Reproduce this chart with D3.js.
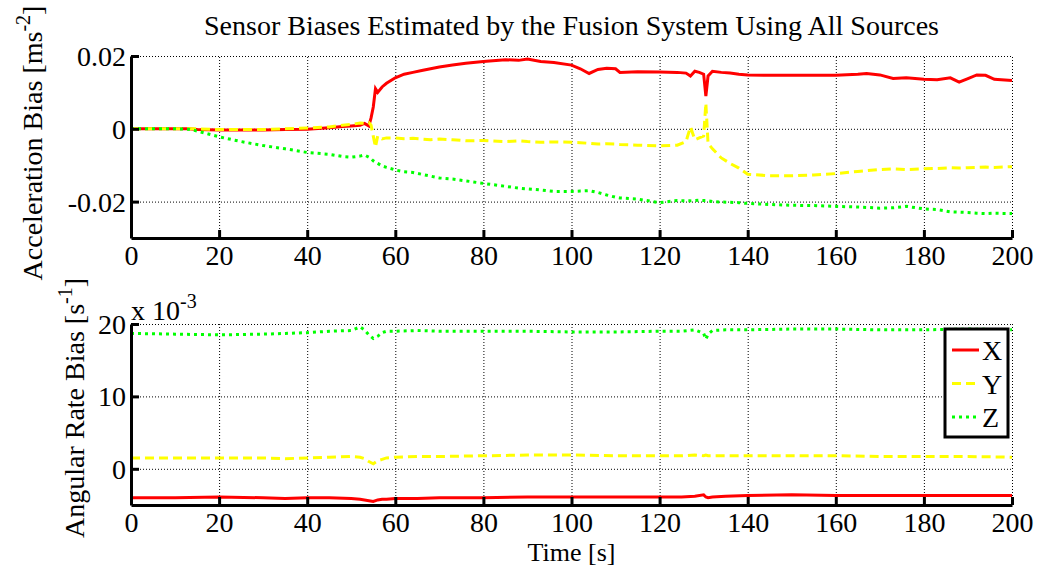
<!DOCTYPE html>
<html>
<head>
<meta charset="utf-8">
<script src="https://cdn.jsdelivr.net/npm/d3@7"></script>
<style>
  body { margin: 0; background: #fff; }
  svg text { font-family: "Times New Roman", "Liberation Serif", serif; fill: #000; }
</style>
</head>
<body>
<script>
// ---- data ----
const accTime = [0, 5, 10, 13, 15, 20, 25, 30, 35, 40, 45, 48, 50, 52, 53, 54, 54.5, 55, 55.5, 56, 57, 58, 60, 62, 64, 66, 68, 70, 73, 76, 80, 85, 88, 90, 93, 96, 100, 102, 104, 106, 108, 110, 111, 115, 120, 124, 126, 127, 128, 129, 130, 130.5, 131, 132, 134, 136, 138, 140, 145, 150, 155, 160, 165, 167, 170, 173, 176, 180, 183, 186, 188, 190, 192, 194, 196, 200];

const accX = [0, 0, 0, 0, -0.0002, -0.0003, -0.0003, -0.0003, -0.0002, -0.0001, 0.0003, 0.0006, 0.0008, 0.001, 0.0015, 0.0008, 0.003, 0.006, 0.011, 0.010, 0.0115, 0.0125, 0.014, 0.015, 0.0155, 0.016, 0.0165, 0.017, 0.0175, 0.018, 0.0185, 0.019, 0.0188, 0.0192, 0.0185, 0.0182, 0.0175, 0.0165, 0.0152, 0.0163, 0.0166, 0.0165, 0.0155, 0.0157, 0.0156, 0.0155, 0.0153, 0.0145, 0.0158, 0.0155, 0.015, 0.009, 0.0145, 0.0158, 0.0155, 0.0153, 0.015, 0.0148, 0.0147, 0.0147, 0.0147, 0.0147, 0.015, 0.0152, 0.0148, 0.0138, 0.014, 0.0136, 0.0135, 0.014, 0.0128, 0.0138, 0.0148, 0.0147, 0.0136, 0.0133];

const accY = [0, 0, 0, 0, 0, -0.0002, -0.0002, -0.0002, 0, 0.0002, 0.0005, 0.001, 0.0012, 0.0016, 0.0015, 0.0017, 0.001, -0.002, -0.005, -0.002, -0.0028, -0.0025, -0.0025, -0.0027, -0.0026, -0.0028, -0.003, -0.0028, -0.003, -0.0033, -0.0032, -0.0035, -0.0033, -0.0035, -0.0037, -0.0036, -0.0037, -0.0038, -0.004, -0.0042, -0.0041, -0.0042, -0.0043, -0.0045, -0.0047, -0.0045, -0.0035, 0.0005, -0.003, -0.0025, -0.002, 0.007, -0.004, -0.0055, -0.008, -0.0095, -0.0108, -0.0125, -0.0129, -0.0129, -0.0127, -0.0123, -0.0117, -0.0115, -0.0112, -0.011, -0.0112, -0.011, -0.0109, -0.0107, -0.0108, -0.0107, -0.0106, -0.0105, -0.0106, -0.0104];

const accZ = [0, 0, 0, -0.0001, -0.0006, -0.0022, -0.0035, -0.0046, -0.0055, -0.0065, -0.007, -0.0076, -0.0078, -0.0075, -0.0072, -0.0078, -0.0082, -0.0088, -0.0092, -0.0095, -0.0102, -0.0106, -0.0113, -0.0118, -0.012, -0.0125, -0.013, -0.0135, -0.0138, -0.0143, -0.015, -0.0158, -0.0163, -0.0165, -0.0168, -0.0172, -0.0172, -0.0171, -0.017, -0.0175, -0.0182, -0.0188, -0.019, -0.0193, -0.0203, -0.0197, -0.0198, -0.0198, -0.0197, -0.0196, -0.0197, -0.0197, -0.0198, -0.02, -0.0201, -0.0202, -0.0203, -0.0205, -0.0208, -0.021, -0.0211, -0.0213, -0.0215, -0.0216, -0.0218, -0.0217, -0.0213, -0.022, -0.0222, -0.0228, -0.0229, -0.023, -0.0232, -0.0233, -0.0232, -0.0233];

// angular rate, in units of 1e-3 s^-1
const rateTime = [0, 10, 20, 30, 35, 40, 45, 50, 52, 53, 54, 55, 56, 57, 58, 60, 65, 70, 80, 90, 100, 110, 120, 125, 128, 130, 130.5, 131, 132, 135, 140, 150, 160, 170, 180, 190, 200];

const rateX = [-4.0, -4.0, -3.9, -4.0, -4.1, -4.0, -4.0, -4.1, -4.2, -4.3, -4.4, -4.5, -4.3, -4.2, -4.2, -4.1, -4.1, -4.0, -4.0, -3.9, -3.9, -3.9, -3.9, -3.9, -3.8, -3.6, -3.9, -4.0, -3.9, -3.8, -3.7, -3.6, -3.7, -3.7, -3.7, -3.7, -3.7];

const rateY = [1.5, 1.5, 1.5, 1.5, 1.4, 1.5, 1.6, 1.7, 1.6, 1.4, 1.0, 0.7, 1.1, 1.3, 1.5, 1.6, 1.7, 1.7, 1.8, 1.9, 1.9, 1.8, 1.8, 1.8, 1.9, 1.8, 1.9, 1.8, 1.8, 1.8, 1.8, 1.8, 1.8, 1.7, 1.7, 1.7, 1.6];

const rateZ = [18.7, 18.6, 18.5, 18.6, 18.7, 18.8, 19.0, 19.1, 19.6, 19.2, 18.5, 18.0, 18.3, 18.8, 19.0, 19.0, 19.1, 19.0, 19.0, 19.0, 18.9, 18.9, 19.0, 19.0, 19.2, 18.7, 17.9, 18.6, 19.1, 19.2, 19.2, 19.3, 19.3, 19.2, 19.2, 19.3, 19.2];

const timeTicks = [0, 20, 40, 60, 80, 100, 120, 140, 160, 180, 200];
const accTicks = [-0.02, 0, 0.02];
const rateTicks = [0, 10, 20];
const seriesNames = ["X", "Y", "Z"];

// ---- drawing ----
const W = 1039, H = 569;
const left = 131, right = 1012;
const fs = 28;

const svg = d3.select("body").append("svg")
  .attr("width", W)
  .attr("height", H)

const styles = [
  { color: "#ff0000", dash: null },
  { color: "#ffff00", dash: "9,5" },
  { color: "#00ff00", dash: "3,4" }
]

const x = d3.scaleLinear().domain([0, 200]).range([left, right])

let panel = (top, bottom, yDomain, yTicks, yFmt, time, series) => {
  const y = d3.scaleLinear().domain(yDomain).range([bottom, top])
  const g = svg.append("g")

  // dotted grid
  g.append("g")
    .attr("transform", `translate(0,${bottom})`)
    .call(d3.axisBottom(x).tickValues(timeTicks).tickSize(-(bottom - top)).tickFormat(""))
    .call(a => a.select(".domain").remove())
    .selectAll("line").attr("stroke", "#000").attr("stroke-width", 1).attr("stroke-dasharray", "1,2")
  g.append("g")
    .attr("transform", `translate(${left},0)`)
    .call(d3.axisLeft(y).tickValues(yTicks).tickSize(-(right - left)).tickFormat(""))
    .call(a => a.select(".domain").remove())
    .selectAll("line").attr("stroke", "#000").attr("stroke-width", 1).attr("stroke-dasharray", "1,2")

  // series
  series.forEach((vals, k) => {
    const line = d3.line().x((d, i) => x(time[i])).y(d => y(d))
    g.append("path")
      .datum(vals)
      .attr("d", line)
      .attr("fill", "none")
      .attr("stroke", styles[k].color)
      .attr("stroke-width", 3)
      .attr("stroke-dasharray", styles[k].dash)
  })

  // axes with inward ticks
  const xa = g.append("g")
    .attr("transform", `translate(0,${bottom})`)
    .call(d3.axisBottom(x).tickValues(timeTicks).tickSizeInner(-8).tickSizeOuter(0).tickPadding(0))
  const ya = g.append("g")
    .attr("transform", `translate(${left},0)`)
    .call(d3.axisLeft(y).tickValues(yTicks).tickFormat(yFmt).tickSizeInner(-8).tickSizeOuter(0).tickPadding(0))
  ;[xa, ya].forEach(a => {
    a.attr("font-family", null).attr("font-size", null)
    a.select(".domain").attr("stroke", "#000").attr("stroke-width", 3)
    a.selectAll(".tick line").attr("stroke", "#000").attr("stroke-width", 3)
    a.selectAll("text").attr("font-size", fs)
  })
  xa.selectAll("text").attr("y", 7).attr("dy", "0.71em")
  ya.selectAll("text").attr("x", -5).attr("dy", "0.34em")
  return y
}

panel(56, 238, [-0.03, 0.02], accTicks, d => d === 0 ? "0" : d3.format(".2f")(d).replace("−", "-"),
  accTime, [accX, accY, accZ])
panel(324, 505, [-5, 20], rateTicks, d => d, rateTime, [rateX, rateY, rateZ])

// title
svg.append("text")
  .attr("x", (left + right) / 2)
  .attr("y", 35)
  .attr("text-anchor", "middle")
  .attr("font-size", fs)
  .text("Sensor Biases Estimated by the Fusion System Using All Sources")

// x label
svg.append("text")
  .attr("x", (left + right) / 2)
  .attr("y", 561)
  .attr("text-anchor", "middle")
  .attr("font-size", 26)
  .text("Time [s]")

// y labels
let ylabel = (cx, cy, main, sup) => {
  const t = svg.append("text")
    .attr("transform", `translate(${cx},${cy}) rotate(-90)`)
    .attr("text-anchor", "middle")
    .attr("font-size", fs)
  t.append("tspan").text(main)
  t.append("tspan").attr("font-size", 20).attr("dy", -12).text(sup)
  t.append("tspan").attr("dy", 12).text("]")
}
ylabel(42, 143, "Acceleration Bias [ms", "-2")
ylabel(84, 408, "Angular Rate Bias [s", "-1")

// exponent label
const ex = svg.append("text")
  .attr("x", left)
  .attr("y", 320)
  .attr("font-size", fs)
ex.append("tspan").text("x 10")
ex.append("tspan").attr("font-size", 20).attr("dy", -12).text("-3")

// legend
const lg = svg.append("g")
lg.append("rect")
  .attr("x", 945).attr("y", 329).attr("width", 63).attr("height", 108)
  .attr("fill", "#fff").attr("stroke", "#000").attr("stroke-width", 3)
seriesNames.forEach((n, k) => {
  const yy = 350 + k * 33.5
  lg.append("line")
    .attr("x1", 952).attr("x2", 979).attr("y1", yy).attr("y2", yy)
    .attr("stroke", styles[k].color).attr("stroke-width", 3)
    .attr("stroke-dasharray", styles[k].dash)
  lg.append("text")
    .attr("x", 982).attr("y", yy + 10)
    .attr("font-size", fs)
    .text(n)
})
</script>
</body>
</html>
